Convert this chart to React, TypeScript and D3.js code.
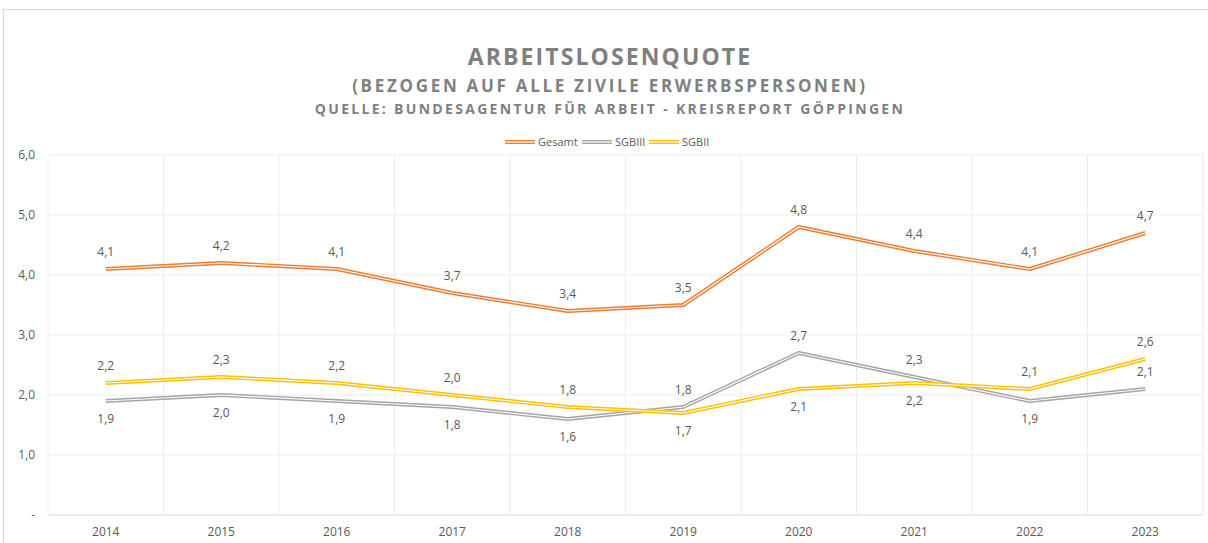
import React from "react";
import * as d3 from "d3";

const years = ["2014", "2015", "2016", "2017", "2018", "2019", "2020", "2021", "2022", "2023"];
const gesamt = [4.1, 4.2, 4.1, 3.7, 3.4, 3.5, 4.8, 4.4, 4.1, 4.7];
const sgb3 = [1.9, 2.0, 1.9, 1.8, 1.6, 1.8, 2.7, 2.3, 1.9, 2.1];
const sgb2 = [2.2, 2.3, 2.2, 2.0, 1.8, 1.7, 2.1, 2.2, 2.1, 2.6];
// label position: 1 = above, -1 = below
const gesamtPos = [1, 1, 1, 1, 1, 1, 1, 1, 1, 1];
const sgb3Pos = [-1, -1, -1, -1, -1, 1, 1, 1, -1, 1];
const sgb2Pos = [1, 1, 1, 1, 1, -1, -1, -1, 1, 1];
const yTicks = [0, 1, 2, 3, 4, 5, 6];

const series = [
  { name: "Gesamt", values: gesamt, pos: gesamtPos, color: "#ED7D31" },
  { name: "SGBIII", values: sgb3, pos: sgb3Pos, color: "#A5A5A5" },
  { name: "SGBII", values: sgb2, pos: sgb2Pos, color: "#FFC000" },
];

const W = 1208, H = 543;
const left = 48, right = 1203, top = 155, bottom = 515;
const font = "'Open Sans', 'Noto Sans', sans-serif";

export default function App() {
  const x = d3.scaleBand<string>().domain(years).range([left, right]).padding(0);
  const y = d3.scaleLinear().domain([0, 6]).range([bottom, top]);
  const cx = (i: number) => (x(years[i]) as number) + x.bandwidth() / 2;
  const line = d3.line<number>().x((_, i) => cx(i)).y((d) => y(d));
  const fmt = (v: number) => v.toFixed(1).replace(".", ",");

  return (
    <svg width={W} height={H} style={{ position: "absolute", left: 0, top: 0, background: "#fff" }}>
      <rect x={3.5} y={9.5} width={1220} height={560} fill="#fff" stroke="#d9d9d9" />
      <text x={610} y={65} textAnchor="middle" fontFamily={font} fontWeight={700} fontSize={23} letterSpacing={2.1} fill="#7f7f7f">ARBEITSLOSENQUOTE</text>
      <text x={610} y={92} textAnchor="middle" fontFamily={font} fontWeight={700} fontSize={17} letterSpacing={2.7} fill="#7f7f7f">(BEZOGEN AUF ALLE ZIVILE ERWERBSPERSONEN)</text>
      <text x={610} y={114} textAnchor="middle" fontFamily={font} fontWeight={700} fontSize={14} letterSpacing={2.3} fill="#7f7f7f">QUELLE: BUNDESAGENTUR FÜR ARBEIT - KREISREPORT GÖPPINGEN</text>

      {/* legend */}
      {[
        { s: series[0], x0: 505 },
        { s: series[1], x0: 582 },
        { s: series[2], x0: 649 },
      ].map(({ s, x0 }) => (
        <g key={s.name}>
          <line x1={x0} x2={x0 + 30} y1={142} y2={142} stroke={s.color} strokeWidth={4} />
          <line x1={x0} x2={x0 + 30} y1={142} y2={142} stroke="#fff" strokeWidth={1.2} />
          <text x={x0 + 33} y={146} fontFamily={font} fontSize={11} fill="#595959">{s.name}</text>
        </g>
      ))}

      {/* gridlines */}
      {yTicks.map((t) => (
        <line key={"h" + t} x1={left} x2={right} y1={y(t)} y2={y(t)} stroke={t === 0 ? "#d9d9d9" : "#ececec"} strokeWidth={1} />
      ))}
      {years.map((yr) => (
        <line key={"v" + yr} x1={x(yr) as number} x2={x(yr) as number} y1={top} y2={bottom} stroke="#ececec" strokeWidth={1} />
      ))}
      <line x1={right} x2={right} y1={top} y2={bottom} stroke="#ececec" />

      {/* y axis labels */}
      {yTicks.map((t) => (
        <text key={"yl" + t} x={35} y={y(t) + 4} textAnchor="end" fontFamily={font} fontSize={12} fill="#595959">{t === 0 ? "-" : fmt(t)}</text>
      ))}
      {/* x axis labels */}
      {years.map((yr, i) => (
        <text key={"xl" + yr} x={cx(i)} y={536} textAnchor="middle" fontFamily={font} fontSize={12} fill="#595959">{yr}</text>
      ))}

      {/* lines */}
      {series.map((s) => (
        <g key={"l" + s.name}>
          <path d={line(s.values) || ""} fill="none" stroke={s.color} strokeWidth={4} strokeLinejoin="round" />
          <path d={line(s.values) || ""} fill="none" stroke="#fff" strokeWidth={1.2} strokeLinejoin="round" />
        </g>
      ))}

      {/* data labels */}
      {series.map((s) =>
        s.values.map((v, i) => (
          <text key={s.name + i} x={cx(i)} y={y(v) + (s.pos[i] > 0 ? -13 : 22)} textAnchor="middle" fontFamily={font} fontSize={12} fill="#595959">{fmt(v)}</text>
        ))
      )}
    </svg>
  );
}
